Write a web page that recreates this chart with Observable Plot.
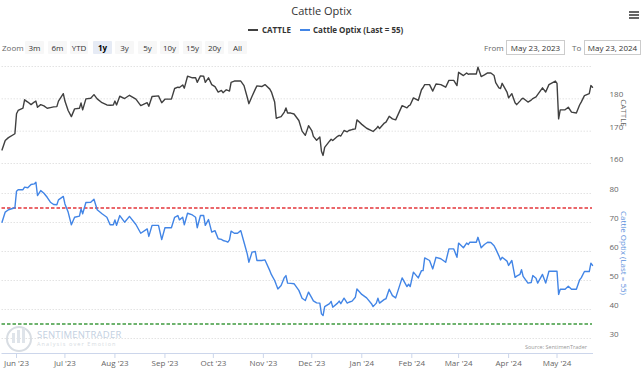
<!DOCTYPE html>
<html><head><meta charset="utf-8">
<script src="https://cdn.jsdelivr.net/npm/d3@7"></script>
<script src="https://cdn.jsdelivr.net/npm/@observablehq/plot@0.6"></script>
<style>
body{margin:0;background:#fff;font-family:"Open Sans",sans-serif;}
#wrap{position:relative;width:643px;height:372px;overflow:hidden;background:#fff;}
.abs{position:absolute;white-space:nowrap;}
.btn{position:absolute;top:41px;height:13px;width:19px;background:#f7f7f7;color:#333;font-size:8px;line-height:13px;text-align:center;border-radius:1px;}
.btn.sel{background:#e6ebf5;font-weight:bold;color:#000;}
.inp{position:absolute;top:40px;height:13px;border:1px solid #cccccc;background:#fff;color:#333;font-size:8px;line-height:13px;text-align:center;}
.lbl{font-size:8px;color:#666;}
.pl{position:absolute;left:0;}
</style></head><body><div id="wrap">
<div class="abs" style="left:0;width:643px;top:3px;text-align:center;font-size:11px;color:#333;">Cattle Optix</div>
<div class="abs" style="left:629px;top:11px;width:10px;height:1.5px;background:#666;"></div>
<div class="abs" style="left:629px;top:14px;width:10px;height:1.5px;background:#666;"></div>
<div class="abs" style="left:629px;top:17px;width:10px;height:1.5px;background:#666;"></div>
<div class="abs" style="left:248px;top:29px;width:10px;height:2px;background:#404040;"></div>
<div class="abs" style="left:262px;top:24px;font-size:8px;font-weight:bold;color:#333;line-height:12px;">CATTLE</div>
<div class="abs" style="left:300px;top:29px;width:10px;height:2px;background:#4285e6;"></div>
<div class="abs" style="left:313px;top:24px;font-size:8px;font-weight:bold;color:#333;line-height:12px;">Cattle Optix (Last = 55)</div>
<div class="abs lbl" style="left:2px;top:41px;line-height:13px;">Zoom</div>
<div class="btn" style="left:25px">3m</div>
<div class="btn" style="left:48px">6m</div>
<div class="btn" style="left:70px;width:18px">YTD</div>
<div class="btn sel" style="left:93px">1y</div>
<div class="btn" style="left:115px">3y</div>
<div class="btn" style="left:138px">5y</div>
<div class="btn" style="left:160px">10y</div>
<div class="btn" style="left:183px">15y</div>
<div class="btn" style="left:205px">20y</div>
<div class="btn" style="left:228px">All</div>
<div class="abs lbl" style="left:484px;top:41px;line-height:13px;">From</div>
<div class="inp" style="left:506px;width:57px;">May 23, 2023</div>
<div class="abs lbl" style="left:572px;top:41px;line-height:13px;">To</div>
<div class="inp" style="left:584px;width:55px;">May 23, 2024</div>
<div id="top" class="pl" style="top:60px"></div>
<div id="bot" class="pl" style="top:170px"></div>
<div class="abs" style="left:6px;top:326px;width:22px;height:22px;border:2px solid #d8dde3;border-radius:50%;"></div>
<div class="abs" style="left:12px;top:333px;width:3px;height:10px;background:#dfe4ea;"></div>
<div class="abs" style="left:17px;top:330px;width:3px;height:13px;background:#dfe4ea;"></div>
<div class="abs" style="left:22px;top:328px;width:3px;height:15px;background:#dfe4ea;"></div>
<div class="abs" style="left:37px;top:328px;font-size:9.5px;color:#c3d0df;letter-spacing:0.2px;">SENTIMENTRADER</div>
<div class="abs" style="left:37px;top:340px;font-size:5.5px;color:#d5dbe2;letter-spacing:1.1px;">Analysis over Emotion</div>
<div class="abs" style="right:56px;top:343px;font-size:5.5px;color:#999;">Source: SentimenTrader</div>
<div class="abs" style="left:624px;top:113px;transform:translate(-50%,-50%) rotate(90deg);font-size:8px;color:#666;">CATTLE</div>
<div class="abs" style="left:624px;top:253px;transform:translate(-50%,-50%) rotate(90deg);font-size:8px;color:#5a8fdc;">Cattle Optix (Last = 55)</div>
</div>
<script>
const dates = ["2023-05-23","2023-05-25","2023-05-27","2023-05-31","2023-06-01","2023-06-02","2023-06-05","2023-06-06","2023-06-08","2023-06-10","2023-06-12","2023-06-13","2023-06-14","2023-06-16","2023-06-18","2023-06-20","2023-06-22","2023-06-24","2023-06-26","2023-06-27","2023-06-30","2023-07-01","2023-07-03","2023-07-05","2023-07-07","2023-07-10","2023-07-11","2023-07-12","2023-07-14","2023-07-17","2023-07-19","2023-07-21","2023-07-24","2023-07-27","2023-07-29","2023-07-31","2023-08-01","2023-08-02","2023-08-04","2023-08-07","2023-08-10","2023-08-14","2023-08-17","2023-08-21","2023-08-22","2023-08-24","2023-08-28","2023-08-30","2023-09-01","2023-09-05","2023-09-07","2023-09-09","2023-09-10","2023-09-12","2023-09-13","2023-09-15","2023-09-18","2023-09-20","2023-09-21","2023-09-23","2023-09-25","2023-09-26","2023-09-28","2023-09-30","2023-10-02","2023-10-04","2023-10-06","2023-10-07","2023-10-09","2023-10-10","2023-10-11","2023-10-12","2023-10-14","2023-10-16","2023-10-18","2023-10-20","2023-10-22","2023-10-23","2023-10-25","2023-10-27","2023-10-28","2023-10-31","2023-11-02","2023-11-05","2023-11-06","2023-11-08","2023-11-09","2023-11-10","2023-11-12","2023-11-14","2023-11-15","2023-11-16","2023-11-18","2023-11-20","2023-11-23","2023-11-25","2023-11-27","2023-11-29","2023-12-01","2023-12-02","2023-12-04","2023-12-06","2023-12-07","2023-12-08","2023-12-09","2023-12-12","2023-12-13","2023-12-14","2023-12-17","2023-12-18","2023-12-19","2023-12-21","2023-12-23","2023-12-24","2023-12-26","2023-12-28","2023-12-29","2024-01-01","2024-01-04","2024-01-07","2024-01-08","2024-01-10","2024-01-11","2024-01-12","2024-01-15","2024-01-16","2024-01-18","2024-01-20","2024-01-22","2024-01-26","2024-01-29","2024-01-30","2024-01-31","2024-02-02","2024-02-05","2024-02-07","2024-02-08","2024-02-09","2024-02-12","2024-02-14","2024-02-16","2024-02-19","2024-02-22","2024-02-24","2024-02-27","2024-02-29","2024-03-01","2024-03-04","2024-03-06","2024-03-07","2024-03-08","2024-03-12","2024-03-13","2024-03-15","2024-03-17","2024-03-19","2024-03-21","2024-03-23","2024-03-24","2024-03-26","2024-03-27","2024-03-28","2024-03-31","2024-04-01","2024-04-03","2024-04-05","2024-04-06","2024-04-08","2024-04-09","2024-04-10","2024-04-13","2024-04-15","2024-04-16","2024-04-18","2024-04-19","2024-04-22","2024-04-24","2024-04-26","2024-04-30","2024-05-01","2024-05-02","2024-05-03","2024-05-06","2024-05-08","2024-05-10","2024-05-13","2024-05-15","2024-05-16","2024-05-18","2024-05-21","2024-05-22","2024-05-23"];
const cattle = [164.2,167.1,168.0,169.2,175.4,176.4,177.1,179.7,179.0,178.2,179.0,179.3,177.4,178.2,177.8,177.1,177.3,177.5,177.6,179.3,181.6,179.3,176.4,174.5,176.9,177.1,178.7,176.6,180.0,180.2,181.3,180.0,178.8,178.1,178.0,178.1,179.3,178.1,180.8,180.1,181.1,179.9,177.9,178.8,177.7,180.7,180.9,178.8,179.9,179.9,183.2,183.6,183.5,184.3,183.3,187.0,186.5,186.5,185.1,187.1,187.0,185.1,186.5,184.4,183.8,182.1,182.6,181.9,182.8,182.6,182.4,185.1,185.5,185.5,185.5,184.1,180.5,178.5,180.8,183.0,184.0,183.8,184.4,183.0,182.1,179.0,174.0,174.2,174.5,175.9,177.2,175.6,175.6,175.3,173.3,170.0,168.7,171.7,170.2,168.4,167.2,168.2,163.8,162.5,165.0,166.9,167.5,167.1,168.4,168.7,168.5,170.2,169.8,170.2,170.5,170.7,173.5,172.1,170.9,170.2,169.9,170.8,171.5,170.8,172.5,172.8,174.6,173.8,173.5,177.9,177.2,177.8,178.1,180.3,179.5,182.8,183.5,184.4,184.4,182.4,184.6,184.4,183.6,185.7,185.7,184.1,188.2,187.2,188.0,187.6,187.7,187.7,189.8,186.9,187.4,188.0,188.0,187.2,185.0,183.4,183.2,184.8,182.1,180.3,181.6,178.8,178.2,179.3,179.9,180.2,179.0,179.6,180.1,180.6,181.3,183.4,182.1,184.4,185.5,184.8,173.8,176.6,176.6,177.4,175.9,175.6,178.1,179.0,181.0,181.6,184.1,183.6];
const optix = [70.1,73.6,74.4,75.1,80.8,81.3,81.3,82.2,82.0,83.1,83.3,83.9,79.3,81.0,80.1,78.7,77.0,76.2,76.1,77.8,79.0,76.4,73.6,69.2,71.8,72.2,74.7,73.0,76.9,77.0,78.0,74.4,73.0,71.8,69.2,69.2,70.9,69.0,72.4,70.1,72.1,69.3,66.3,67.8,65.2,69.0,69.0,64.1,68.2,68.2,71.8,72.4,70.9,71.8,69.2,73.2,72.6,71.8,68.2,72.4,72.4,69.0,71.0,66.7,67.2,64.4,64.2,63.8,63.5,63.2,64.0,67.0,66.3,66.3,67.2,63.2,59.2,56.3,59.8,60.0,56.9,56.9,57.1,53.4,52.0,50.0,48.5,47.1,48.3,51.0,51.7,49.1,49.0,48.9,46.6,43.9,43.1,46.0,44.0,43.0,42.3,42.2,38.5,37.9,41.0,42.0,42.8,40.8,42.2,42.9,42.0,43.9,42.2,42.5,42.9,44.2,47.1,45.2,44.0,42.0,41.0,42.2,43.9,42.2,43.5,43.7,47.0,44.8,44.0,50.9,47.9,48.7,47.9,52.9,50.9,53.4,53.4,57.8,56.9,54.0,58.0,57.5,56.3,60.9,60.9,58.0,62.9,61.3,62.9,62.4,63.2,63.2,64.9,61.3,62.4,63.2,63.1,62.0,60.9,58.5,57.1,58.0,56.7,55.2,56.9,51.1,51.5,52.1,53.7,51.4,49.1,49.3,51.7,50.8,49.1,52.1,49.1,53.2,53.2,53.2,45.2,47.0,47.0,48.0,47.0,47.0,50.2,50.9,53.1,53.1,56.0,55.2];
const upperBand = 75;
const lowerBand = 35;
const cattleGrid = [160,170,180,190];
const cattleTicks = [160,170,180];
const optixTicks = [30,40,50,60,70,80];
const monthTicks = ["2023-06-01","2023-07-01","2023-08-01","2023-09-01","2023-10-01","2023-11-01","2023-12-01","2024-01-01","2024-02-01","2024-03-01","2024-04-01","2024-05-01"];
const rangeStart = "2023-05-23", rangeEnd = "2024-05-23";

const parse = d3.utcParse("%Y-%m-%d");
const rows = dates.map((d, i) => ({date: parse(d), cattle: cattle[i], optix: optix[i]}));
const xDomain = [parse(rangeStart), parse(rangeEnd)];
const style = {fontFamily: "Open Sans", fontSize: "8px", color: "#666", background: "transparent", overflow: "visible"};

const topPlot = Plot.plot({
  width: 643, height: 110,
  marginLeft: 1.5, marginRight: 51, marginTop: 6, marginBottom: 7,
  x: {domain: xDomain, type: "utc", axis: null},
  y: {domain: [160, 190]},
  style,
  marks: [
    Plot.ruleY(cattleGrid, {stroke: "#e3e3e3", strokeDasharray: "1.5,1.5"}),
    Plot.axisY(cattleTicks, {anchor: "right", tickSize: 0, tickPadding: 17, textAnchor: "start", dy: -4, label: null, fill: "#666"}),
    Plot.line(rows, {x: "date", y: "cattle", stroke: "#404040", strokeWidth: 1.4})
  ]
});
document.getElementById("top").appendChild(topPlot);

const botPlot = Plot.plot({
  width: 643, height: 202,
  marginLeft: 1.5, marginRight: 51, marginTop: 8.5, marginBottom: 19,
  x: {domain: xDomain, type: "utc"},
  y: {domain: [24.83, 85]},
  style,
  marks: [
    Plot.ruleY(optixTicks, {stroke: "#e3e3e3", strokeDasharray: "1.5,1.5"}),
    Plot.ruleY([upperBand], {stroke: "#e4363b", strokeWidth: 1.5, strokeDasharray: "3.5,2"}),
    Plot.ruleY([lowerBand], {stroke: "#3f9a3f", strokeWidth: 1.5, strokeDasharray: "3.5,2"}),
    Plot.line(rows, {x: "date", y: "optix", stroke: "#4285e6", strokeWidth: 1.4}),
    Plot.axisY(optixTicks, {anchor: "right", tickSize: 0, tickPadding: 17, textAnchor: "start", dy: -4, label: null, fill: "#666"}),
    Plot.frame({anchor: "bottom", stroke: "#ccd6eb"}),
    Plot.axisX(monthTicks.map(parse), {tickFormat: d3.utcFormat("%b '%y"), tickSize: 5, tickPadding: 2, stroke: "#ccd6eb", fill: "#666", label: null})
  ]
});
document.getElementById("bot").appendChild(botPlot);
</script>
</body></html>
